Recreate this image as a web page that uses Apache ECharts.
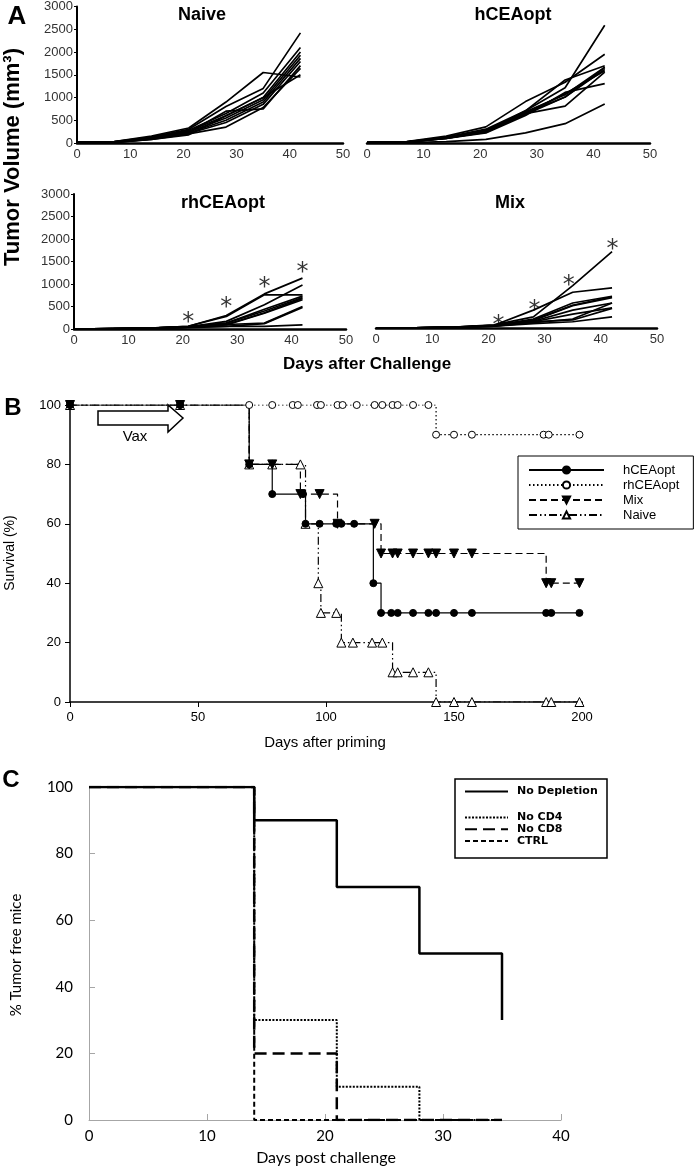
<!DOCTYPE html>
<html>
<head>
<meta charset="utf-8">
<script src="https://cdn.jsdelivr.net/npm/echarts@6/dist/echarts.min.js"></script>
<style>
html, body { margin: 0; padding: 0; background: #fff; }
#chart { width: 700px; height: 1168px; }
</style>
</head>
<body>
<div id="chart"></div>
<script>
// Panel A: tumor volume (mm3) per mouse, measured on these days
const tumorDays = [0, 7, 14, 21, 28, 35, 42];

const naiveVolumes = [
    [20, 30, 150, 330, 900, 1550, 1450],
    [20, 30, 130, 300, 800, 1200, 2420],
    [15, 25, 120, 280, 650, 1100, 2100],
    [15, 25, 110, 260, 600, 1000, 2000],
    [10, 20, 100, 240, 550, 950, 1930],
    [10, 20, 100, 220, 500, 900, 1860],
    [10, 20, 90, 210, 450, 850, 1790],
    [10, 15, 80, 200, 350, 780, 1640],
    [10, 15, 80, 180, 600, 1000, 1500],
    [10, 15, 90, 230, 700, 750, 1700]
];

const hceaVolumes = [
    [10, 25, 100, 250, 700, 1200, 2560],
    [15, 30, 150, 350, 900, 1320, 1930],
    [10, 25, 130, 300, 700, 1370, 1680],
    [10, 25, 120, 280, 650, 1000, 1640],
    [10, 20, 110, 250, 650, 1070, 1570],
    [10, 20, 110, 230, 640, 800, 1540],
    [10, 20, 100, 220, 600, 1100, 1290],
    [5, 10, 30, 80, 220, 420, 850],
    [10, 20, 120, 260, 680, 1050, 1650],
    [10, 20, 100, 240, 620, 1000, 1600]
];

const rhceaVolumes = [
    [0, 10, 20, 60, 300, 780, 1130],
    [0, 10, 20, 60, 280, 760, 760],
    [0, 10, 20, 50, 170, 540, 980],
    [0, 10, 20, 50, 130, 440, 730],
    [0, 10, 20, 50, 130, 400, 700],
    [0, 10, 20, 50, 100, 360, 680],
    [0, 5, 15, 40, 100, 130, 500],
    [0, 5, 15, 40, 60, 120, 480],
    [0, 5, 10, 30, 60, 60, 90],
    [0, 5, 15, 40, 90, 350, 650]
];

const mixVolumes = [
    [0, 5, 20, 70, 250, 950, 1710],
    [0, 5, 20, 60, 400, 800, 900],
    [0, 5, 20, 60, 200, 560, 710],
    [0, 5, 20, 50, 180, 510, 700],
    [0, 5, 15, 50, 150, 400, 560],
    [0, 5, 15, 50, 140, 310, 450],
    [0, 5, 15, 40, 140, 180, 440],
    [0, 5, 15, 40, 100, 140, 250],
    [0, 5, 15, 50, 170, 500, 680],
    [0, 5, 15, 40, 120, 200, 560]
];

// significance stars [day, volume]
const rhceaStars = [[21, 280], [28, 610], [35, 1060], [42, 1390]];
const mixStars = [[21.8, 180], [28.2, 515], [34.3, 1090], [42.1, 1880]];

// Panel B: survival (%) vs days after priming
const survHcea = [[0, 100], [43, 100], [70, 80], [79, 70], [91, 70], [92, 60], [97.5, 60], [104, 60], [106, 60], [111, 60],
    [118.5, 40], [121.5, 30], [125.5, 30], [128, 30], [134, 30], [140, 30], [143, 30], [150, 30], [157, 30], [186, 30], [188, 30], [199, 30]];
const survRhcea = [[0, 100], [43, 100], [70, 100], [79, 100], [87, 100], [89, 100], [96.5, 100], [98, 100], [104.5, 100], [106.5, 100],
    [112, 100], [119, 100], [122, 100], [126, 100], [128, 100], [134, 100], [140, 100], [143, 90], [150, 90], [157, 90], [185, 90], [187, 90], [199, 90]];
const survMix = [[0, 100], [43, 100], [70, 80], [79, 80], [90, 70], [97.5, 70], [104.5, 60], [119, 60], [121.5, 50], [126, 50],
    [128, 50], [134, 50], [140, 50], [143, 50], [150, 50], [157, 50], [186, 40], [188, 40], [199, 40]];
const survNaive = [[0, 100], [43, 100], [70, 80], [79, 80], [90, 80], [92, 60], [97, 40], [98, 30], [104, 30], [106, 20],
    [110.5, 20], [118, 20], [122, 20], [126, 10], [128, 10], [134, 10], [140, 10], [143, 0], [150, 0], [157, 0], [186, 0], [188, 0], [199, 0]];

// Panel C: % tumor free mice vs days post challenge
const noDepletion = [[0, 100], [14, 90], [21, 70], [28, 50], [35, 30]];
const noCD4 = [[0, 100], [14, 30], [21, 10], [28, 0], [35, 0]];
const noCD8 = [[0, 100], [14, 20], [21, 0], [35, 0]];
const ctrl = [[0, 100], [14, 0], [35, 0]];

const arial = 'Liberation Sans, Arial, sans-serif';
const lato = 'Lato, sans-serif';

let chartDom = document.getElementById('chart');
let chart = echarts.init(chartDom);

function volumeAxes(showY) {
    let x = {
        type: 'value', min: 0, max: 50, interval: 10,
        axisLine: { lineStyle: { color: '#000', width: 2.5 } },
        axisTick: { show: false },
        splitLine: { show: false },
        axisLabel: { fontFamily: arial, fontSize: 13, color: '#333', margin: 5 }
    };
    let y = {
        type: 'value', min: 0, max: 3000, interval: 500,
        show: showY,
        axisLine: { show: true, lineStyle: { color: '#000', width: 2 } },
        axisTick: { show: true, length: 3, lineStyle: { color: '#000' } },
        splitLine: { show: false },
        axisLabel: { fontFamily: arial, fontSize: 13, color: '#333', margin: 4, formatter: v => String(v) }
    };
    return [x, y];
}

let grids = [
    { left: 77, top: 5, width: 266, height: 138 },
    { left: 367, top: 5, width: 283, height: 138 },
    { left: 74, top: 194, width: 272, height: 135 },
    { left: 376, top: 194, width: 281, height: 134 },
    { left: 70, top: 405, width: 512, height: 297 },
    { left: 89, top: 787, width: 472, height: 333 }
];

let xAxes = [];
let yAxes = [];
[true, false, true, false].forEach(showY => {
    let [x, y] = volumeAxes(showY);
    x.gridIndex = xAxes.length;
    y.gridIndex = yAxes.length;
    xAxes.push(x);
    yAxes.push(y);
});

// panel B axes
xAxes.push({
    gridIndex: 4, type: 'value', min: 0, max: 200, interval: 50,
    axisLine: { lineStyle: { color: '#000', width: 1.5 } },
    axisTick: { length: 5, lineStyle: { color: '#000' } },
    splitLine: { show: false },
    axisLabel: { fontFamily: arial, fontSize: 13, color: '#000', margin: 9 }
});
yAxes.push({
    gridIndex: 4, type: 'value', min: 0, max: 100, interval: 20,
    axisLine: { show: true, lineStyle: { color: '#000', width: 1.5 } },
    axisTick: { show: true, length: 5, lineStyle: { color: '#000' } },
    splitLine: { show: false },
    axisLabel: { fontFamily: arial, fontSize: 13, color: '#000', margin: 9 }
});

// panel C axes
xAxes.push({
    gridIndex: 5, type: 'value', min: 0, max: 40, interval: 10,
    axisLine: { lineStyle: { color: '#a6a6a6', width: 1 } },
    axisTick: { inside: true, length: 6, lineStyle: { color: '#a6a6a6' } },
    splitLine: { show: false },
    axisLabel: { fontFamily: lato, fontSize: 15, color: '#000', margin: 9 }
});
yAxes.push({
    gridIndex: 5, type: 'value', min: 0, max: 100, interval: 20,
    axisLine: { show: true, lineStyle: { color: '#a6a6a6', width: 1 } },
    axisTick: { show: true, inside: true, length: 6, lineStyle: { color: '#a6a6a6' } },
    splitLine: { show: false },
    axisLabel: { fontFamily: lato, fontSize: 15, color: '#000', margin: 16 }
});

let series = [];

[naiveVolumes, hceaVolumes, rhceaVolumes, mixVolumes].forEach((group, idx) => {
    group.forEach(v => {
        series.push({
            type: 'line',
            xAxisIndex: idx, yAxisIndex: idx,
            data: tumorDays.map((d, i) => [d, v[i]]),
            symbol: 'none',
            lineStyle: { color: '#000', width: 1.7 },
            silent: true
        });
    });
});

[[rhceaStars, 2], [mixStars, 3]].forEach(([stars, idx]) => {
    series.push({
        type: 'scatter',
        xAxisIndex: idx, yAxisIndex: idx,
        data: stars,
        symbolSize: 1,
        itemStyle: { color: 'rgba(0,0,0,0)' },
        label: {
            show: true, position: 'inside', formatter: '*',
            fontFamily: 'DejaVu Sans, sans-serif', fontSize: 24, color: '#000',
            textBorderWidth: 0, offset: [0, 6]
        },
        silent: true
    });
});

function survival(name, data, dash, symbol, fill, size, rotate) {
    return {
        name: name,
        type: 'line',
        xAxisIndex: 4, yAxisIndex: 4,
        step: 'end',
        data: data,
        symbol: symbol,
        symbolSize: size,
        symbolRotate: rotate,
        showAllSymbol: true,
        lineStyle: { color: '#000', width: 1.2, type: dash },
        itemStyle: { color: fill, borderColor: '#000', borderWidth: 1 },
        silent: true
    };
}

series.push(survival('Naive', survNaive, [8, 3, 1.5, 3, 1.5, 3], 'triangle', '#fff', 9, 0));
series.push(survival('rhCEAopt', survRhcea, [1.5, 2.5], 'circle', '#fff', 7, 0));
series.push(survival('Mix', survMix, [7, 4], 'triangle', '#000', 9, 180));
series.push(survival('hCEAopt', survHcea, 'solid', 'circle', '#000', 7, 0));

function depletion(name, data, width, dash) {
    return {
        name: name,
        type: 'line',
        xAxisIndex: 5, yAxisIndex: 5,
        step: 'end',
        data: data,
        symbol: 'none',
        lineStyle: { color: '#000', width: width, type: dash },
        itemStyle: { color: '#000' },
        silent: true
    };
}

series.push(depletion('CTRL', ctrl, 2, [5, 3]));
series.push(depletion('No CD8', noCD8, 2.5, [12, 6]));
series.push(depletion('No CD4', noCD4, 2, [2, 1.5]));
series.push(depletion('No Depletion', noDepletion, 2.5, 'solid'));

let legendText = { fontFamily: 'DejaVu Sans, sans-serif', fontWeight: 'bold', fontSize: 11, color: '#000', padding: [0, 0, 0, 4] };
let noSymbol = { color: 'rgba(0,0,0,0)', borderWidth: 0, opacity: 0 };

let option = {
    animation: false,
    backgroundColor: '#fff',
    grid: grids,
    xAxis: xAxes,
    yAxis: yAxes,
    series: series,
    legend: [
        {
            data: ['hCEAopt', 'rhCEAopt', 'Mix', 'Naive'],
            orient: 'vertical', left: 518, top: 456,
            padding: [7, 14, 7, 10], itemGap: 1,
            itemWidth: 75, itemHeight: 9,
            borderColor: '#000', borderWidth: 1,
            selectedMode: false,
            textStyle: { fontFamily: arial, fontSize: 13, color: '#000', padding: [0, 0, 0, 14], lineHeight: 14 }
        },
        {
            data: ['No Depletion'],
            orient: 'vertical', left: 464, top: 786,
            padding: 0, itemWidth: 43, itemHeight: 14,
            selectedMode: false,
            itemStyle: noSymbol,
            textStyle: legendText
        },
        {
            data: ['No CD4', 'No CD8', 'CTRL'],
            orient: 'vertical', left: 464, top: 812,
            padding: 0, itemGap: 0.5, itemWidth: 43, itemHeight: 14,
            selectedMode: false,
            itemStyle: noSymbol,
            textStyle: legendText
        }
    ],
    graphic: [
        { type: 'text', x: 17, y: 17, style: { text: 'A', font: 'bold 26px ' + arial, textAlign: 'center', textVerticalAlign: 'middle', fill: '#000' } },
        { type: 'text', x: 13, y: 408, style: { text: 'B', font: 'bold 24px ' + arial, textAlign: 'center', textVerticalAlign: 'middle', fill: '#000' } },
        { type: 'text', x: 11, y: 780, style: { text: 'C', font: 'bold 24px ' + arial, textAlign: 'center', textVerticalAlign: 'middle', fill: '#000' } },
        { type: 'text', x: 202, y: 15, style: { text: 'Naive', font: 'bold 18px ' + arial, textAlign: 'center', textVerticalAlign: 'middle', fill: '#000' } },
        { type: 'text', x: 513, y: 15, style: { text: 'hCEAopt', font: 'bold 18px ' + arial, textAlign: 'center', textVerticalAlign: 'middle', fill: '#000' } },
        { type: 'text', x: 223, y: 203, style: { text: 'rhCEAopt', font: 'bold 18px ' + arial, textAlign: 'center', textVerticalAlign: 'middle', fill: '#000' } },
        { type: 'text', x: 510, y: 203, style: { text: 'Mix', font: 'bold 18px ' + arial, textAlign: 'center', textVerticalAlign: 'middle', fill: '#000' } },
        { type: 'text', x: 13, y: 157, rotation: Math.PI / 2, style: { text: 'Tumor Volume (mm³)', font: 'bold 22px ' + arial, textAlign: 'center', textVerticalAlign: 'middle', fill: '#000' } },
        { type: 'text', x: 367, y: 364, style: { text: 'Days after Challenge', font: 'bold 17px ' + arial, textAlign: 'center', textVerticalAlign: 'middle', fill: '#000' } },
        { type: 'text', x: 10, y: 553, rotation: Math.PI / 2, style: { text: 'Survival (%)', font: '14px ' + arial, textAlign: 'center', textVerticalAlign: 'middle', fill: '#000' } },
        { type: 'text', x: 325, y: 743, style: { text: 'Days after priming', font: '15px ' + arial, textAlign: 'center', textVerticalAlign: 'middle', fill: '#000' } },
        {
            type: 'polygon',
            shape: { points: [[98, 411], [168, 411], [168, 405], [183, 418], [168, 432], [168, 425], [98, 425]] },
            style: { fill: '#fff', stroke: '#000', lineWidth: 1.5 }
        },
        { type: 'text', x: 135, y: 437, style: { text: 'Vax', font: '15px ' + arial, textAlign: 'center', textVerticalAlign: 'middle', fill: '#000' } },
        { type: 'rect', shape: { x: 455, y: 779, width: 152, height: 79 }, style: { fill: 'none', stroke: '#000', lineWidth: 1.5 } },
        { type: 'text', x: 16, y: 955, rotation: Math.PI / 2, style: { text: '% Tumor free mice', font: '15px ' + lato, textAlign: 'center', textVerticalAlign: 'middle', fill: '#000' } },
        { type: 'text', x: 326, y: 1158, style: { text: 'Days post challenge', font: '16px ' + lato, textAlign: 'center', textVerticalAlign: 'middle', fill: '#000' } }
    ]
};

option && chart.setOption(option);
</script>
</body>
</html>
